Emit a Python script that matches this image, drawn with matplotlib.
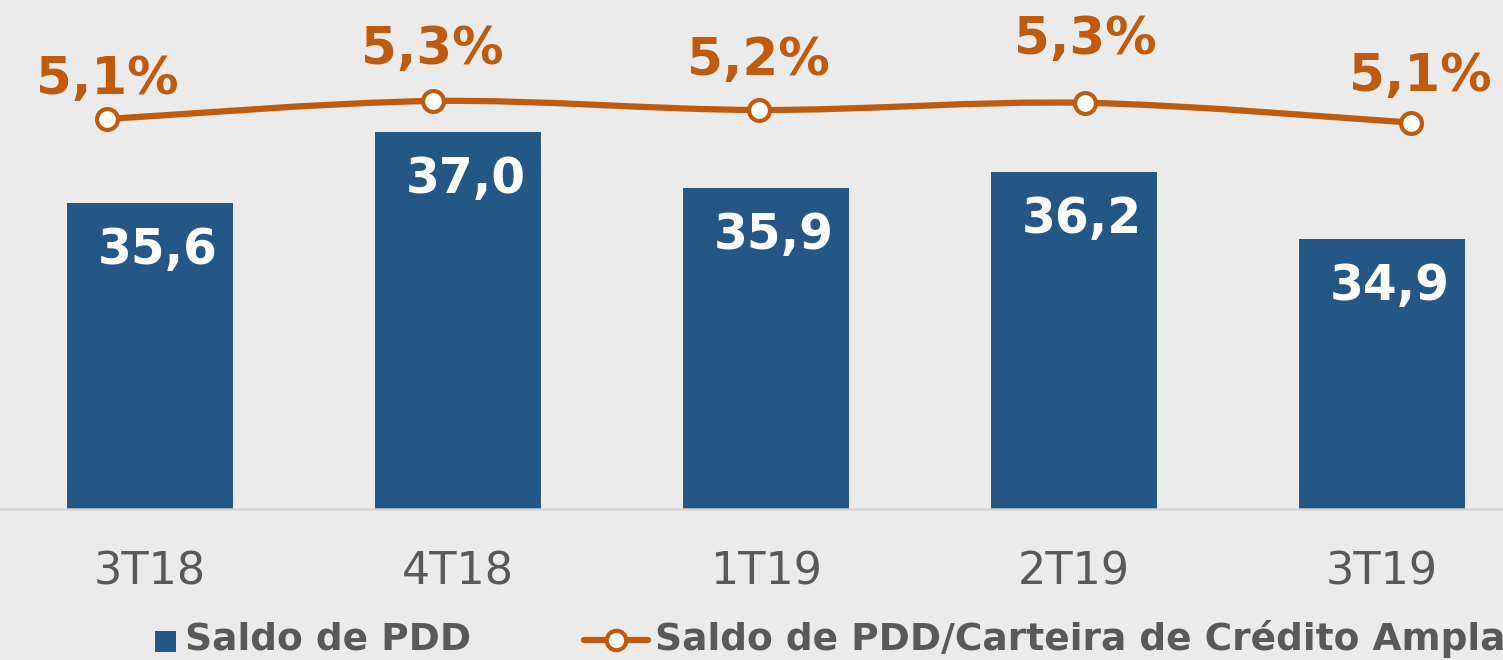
import matplotlib
matplotlib.use("Agg")
import matplotlib.pyplot as plt
from matplotlib.path import Path
from matplotlib.patches import PathPatch, Rectangle
from matplotlib.lines import Line2D

# ---- data ----
categories = ["3T18", "4T18", "1T19", "2T19", "3T19"]
saldo_pdd = [35.6, 37.0, 35.9, 36.2, 34.9]
ratio_pct = [5.10, 5.30, 5.20, 5.28, 5.06]
ratio_labels = ["5,1%", "5,3%", "5,2%", "5,3%", "5,1%"]
legend_labels = ["Saldo de PDD", "Saldo de PDD/Carteira de Crédito Ampla"]

# ---- style ----
BG = "#EBEBEB"
BLUE = "#245786"
ORANGE = "#C05A0C"
GRAY = "#595959"
W, H = 1503, 660

plt.rcParams['font.family'] = ['DejaVu Sans']
fig = plt.figure(figsize=(W / 100, H / 100), dpi=100, facecolor=BG)

base_px = 509
ax = fig.add_axes([0, (H - base_px) / H, 1, base_px / H])
ax.set_facecolor(BG)
x = list(range(len(categories)))
ax.bar(x, saldo_pdd, width=0.54, color=BLUE, zorder=2)
ax.set_xlim(-150 / 308, (W - 150) / 308)
ax.set_ylim(29.6, 29.6 + base_px / 51)
ax.set_yticks([])
ax.set_xticks(x)
ax.set_xticklabels(categories, fontsize=32, color=GRAY)
ax.tick_params(axis='x', length=0, pad=30)
for s in ["top", "left", "right"]:
    ax.spines[s].set_visible(False)
ax.spines["bottom"].set_color("#D6D6D6")
ax.spines["bottom"].set_linewidth(1.8)

for xi, v in zip(x, saldo_pdd):
    ax.annotate(f"{v:.1f}".replace(".", ","), (xi, v), xytext=(8, -47),
                textcoords="offset pixels", ha="center", va="center",
                fontsize=35, fontweight="bold", color="white", zorder=3)

# secondary axes for the ratio line
ax2 = fig.add_axes([0, (H - base_px) / H, 1, base_px / H])
ax2.patch.set_visible(False)
ax2.set_xlim(-107 / 326, (W - 107) / 326)
ax2.set_ylim(5.1 - 390 / 90, 5.1 + 119 / 90)
ax2.axis("off")

# smooth (Catmull-Rom style) curve through the points
pts = list(zip(x, ratio_pct))
verts = [pts[0]]
codes = [Path.MOVETO]
n = len(pts)
for i in range(n - 1):
    p0 = pts[i - 1] if i > 0 else pts[i]
    p1 = pts[i]
    p2 = pts[i + 1]
    p3 = pts[i + 2] if i + 2 < n else pts[i + 1]
    c1 = (p1[0] + (p2[0] - p0[0]) / 6, p1[1] + (p2[1] - p0[1]) / 6)
    c2 = (p2[0] - (p3[0] - p1[0]) / 6, p2[1] - (p3[1] - p1[1]) / 6)
    verts += [c1, c2, p2]
    codes += [Path.CURVE4] * 3
ax2.add_patch(PathPatch(Path(verts, codes), facecolor="none", edgecolor=ORANGE,
                        lw=4.5, capstyle="round", zorder=3))
ax2.plot(x, ratio_pct, linestyle="none", marker="o", markersize=15,
         markerfacecolor="white", markeredgecolor=ORANGE, markeredgewidth=3,
         zorder=4)

label_offsets = [(0, 39), (-1, 51), (-1, 49), (0, 63), (9, 46)]
for xi, v, lab, off in zip(x, ratio_pct, ratio_labels, label_offsets):
    ax2.annotate(lab, (xi, v), xytext=off, textcoords="offset pixels",
                 ha="center", va="center", fontsize=37, fontweight="bold",
                 color=ORANGE, zorder=5)

# ---- legend (drawn in figure pixel coords) ----
def fx(px):
    return px / W

def fy(py):
    return 1 - py / H

fig.add_artist(Rectangle((fx(155), fy(652)), fx(176) - fx(155), fy(631) - fy(652),
                         transform=fig.transFigure, facecolor=BLUE, edgecolor="none"))
fig.text(fx(185), fy(650), legend_labels[0], fontsize=27, fontweight="bold",
         color=GRAY, ha="left", va="baseline")
fig.add_artist(Line2D([fx(584), fx(648)], [fy(640), fy(640)], transform=fig.transFigure,
                      color=ORANGE, lw=4.5, solid_capstyle="round"))
fig.add_artist(Line2D([fx(616)], [fy(640)], transform=fig.transFigure, linestyle="none",
                      marker="o", markersize=14, markerfacecolor="white",
                      markeredgecolor=ORANGE, markeredgewidth=3))
fig.text(fx(655), fy(650), legend_labels[1], fontsize=27, fontweight="bold",
         color=GRAY, ha="left", va="baseline")

fig.savefig("out.png", dpi=100, facecolor=BG)
